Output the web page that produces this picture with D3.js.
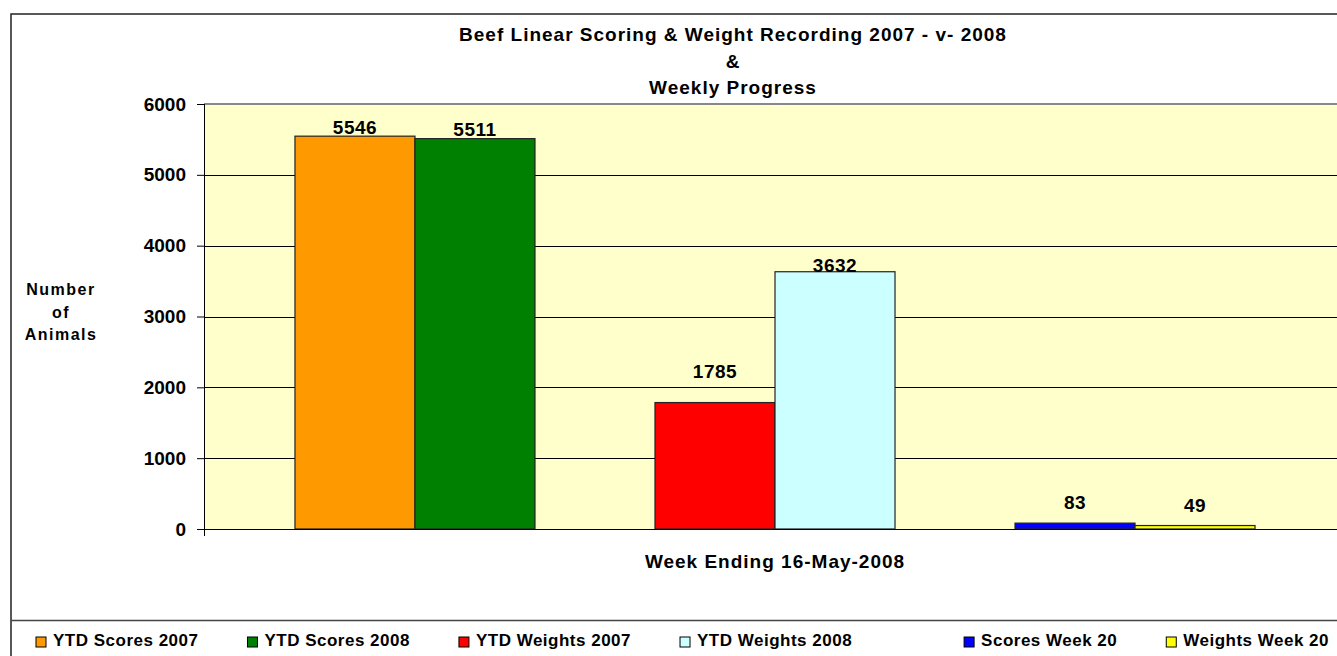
<!DOCTYPE html>
<html>
<head>
<meta charset="utf-8">
<script src="https://cdn.jsdelivr.net/npm/d3@7"></script>
<style>
  html, body { margin: 0; padding: 0; background: #fff; }
  svg { display: block; }
  text { font-family: "Liberation Sans", Arial, Helvetica, sans-serif; font-weight: bold; fill: #000; }
</style>
</head>
<body>
<svg id="chart" width="1337" height="656"></svg>
<script>
// ---- data ----
const titleLines = ["Beef Linear Scoring & Weight Recording 2007 - v- 2008", "&", "Weekly Progress"];
const categoryLabel = "Week Ending 16-May-2008";
const yTitleLines = ["Number", "of", "Animals"];
const seriesNames = ["YTD Scores 2007", "YTD Scores 2008", "YTD Weights 2007", "YTD Weights 2008", "Scores Week 20", "Weights Week 20"];
const seriesValues = [5546, 5511, 1785, 3632, 83, 49];
const seriesColors = ["#FF9900", "#008000", "#FF0000", "#CCFFFF", "#0000FF", "#FFFF00"];
// slots in the cluster, blank slots separate the pairs
const slots = ["YTD Scores 2007", "YTD Scores 2008", "_gap1", "YTD Weights 2007", "YTD Weights 2008", "_gap2", "Scores Week 20", "Weights Week 20"];
const yTicks = [0, 1000, 2000, 3000, 4000, 5000, 6000];

// ---- layout ----
const svg = d3.select("#chart");
const W = 1337, H = 656;
const plot = { left: 204, right: 1346, top: 104, bottom: 529 };

const x = d3.scaleBand().domain(slots).range([plot.left, plot.right]).paddingInner(0).paddingOuter(0.758);
const y = d3.scaleLinear().domain([0, 6000]).range([plot.bottom, plot.top]);

// outer chart border
svg.append("rect").attr("x", 11).attr("y", 14).attr("width", W + 20).attr("height", H + 20)
  .attr("fill", "#fff").attr("stroke", "#222").attr("stroke-width", 1.5);

// plot background
svg.append("rect").attr("x", plot.left).attr("y", plot.top)
  .attr("width", plot.right - plot.left).attr("height", plot.bottom - plot.top)
  .attr("fill", "#FFFFCC");
svg.append("line").attr("x1", plot.left).attr("x2", plot.right).attr("y1", plot.top).attr("y2", plot.top)
  .attr("stroke", "#888").attr("stroke-width", 2);

// gridlines
svg.append("g").selectAll("line").data(yTicks.filter(d => d > 0 && d < 6000)).join("line")
  .attr("x1", plot.left).attr("x2", plot.right)
  .attr("y1", d => Math.round(y(d)) + 0.5).attr("y2", d => Math.round(y(d)) + 0.5)
  .attr("stroke", "#000").attr("stroke-width", 1);

// bars
const data = seriesNames.map((n, i) => ({ name: n, value: seriesValues[i], color: seriesColors[i] }));
svg.append("g").selectAll("rect").data(data).join("rect")
  .attr("x", d => x(d.name)).attr("width", x.bandwidth())
  .attr("y", d => y(d.value)).attr("height", d => y(0) - y(d.value))
  .attr("fill", d => d.color).attr("stroke", "#222").attr("stroke-width", 1.2);

// data labels
const labelLift = { "YTD Scores 2007": 2, "YTD Scores 2008": 3, "YTD Weights 2007": 25, "YTD Weights 2008": 0, "Scores Week 20": 14, "Weights Week 20": 14 };
svg.append("g").selectAll("text").data(data).join("text")
  .attr("x", d => x(d.name) + x.bandwidth() / 2)
  .attr("y", d => y(d.value) - labelLift[d.name])
  .attr("text-anchor", "middle").style("font-size", "19px").style("letter-spacing", "0.5px")
  .text(d => d.value);

// y axis
const yAxis = d3.axisLeft(y).tickValues(yTicks).tickSize(7).tickPadding(11).tickFormat(d3.format("d"));
const gy = svg.append("g").attr("transform", `translate(${plot.left},0)`).call(yAxis);
gy.select(".domain").remove();
gy.selectAll(".tick line").attr("stroke", "#000");
gy.selectAll(".tick text").style("font-size", "19px").attr("fill", "#000")
  .style("font-family", "'Liberation Sans', Arial, sans-serif").style("font-weight", "bold");
svg.append("line").attr("x1", plot.left + 0.5).attr("x2", plot.left + 0.5).attr("y1", plot.top).attr("y2", plot.bottom + 7)
  .attr("stroke", "#000").attr("stroke-width", 1);
// x axis line
svg.append("line").attr("x1", plot.left).attr("x2", plot.right).attr("y1", plot.bottom + 0.5).attr("y2", plot.bottom + 0.5)
  .attr("stroke", "#000").attr("stroke-width", 1.2);

// category label
svg.append("text").attr("x", (plot.left + 1346) / 2).attr("y", 568).attr("text-anchor", "middle")
  .style("font-size", "19px").style("letter-spacing", "1px").text(categoryLabel);

// title
svg.append("g").selectAll("text").data(titleLines).join("text")
  .attr("x", 733).attr("y", (d, i) => 41 + i * 26.5).attr("text-anchor", "middle")
  .style("font-size", "19px").style("letter-spacing", "1px").text(d => d);

// y title
svg.append("g").selectAll("text").data(yTitleLines).join("text")
  .attr("x", 61).attr("y", (d, i) => 295 + i * 22.5).attr("text-anchor", "middle")
  .style("font-size", "16px").style("letter-spacing", "1.5px").text(d => d);

// legend box top line
svg.append("line").attr("x1", 11).attr("x2", W).attr("y1", 620.5).attr("y2", 620.5)
  .attr("stroke", "#444").attr("stroke-width", 1.5);

// legend (flowing entries)
const lg = svg.append("g");
let lx = 36;
data.forEach((d, i) => {
  if (d.name === "Scores Week 20") lx += 63;
  lg.append("rect").attr("x", lx).attr("y", 637).attr("width", 10).attr("height", 10)
    .attr("fill", d.color).attr("stroke", "#000").attr("stroke-width", 1);
  const t = lg.append("text").attr("x", lx + 17).attr("y", 646)
    .style("font-size", "17px").style("letter-spacing", "0.5px").text(d.name);
  lx += 17 + t.node().getComputedTextLength() + 49;
});
</script>
</body>
</html>
